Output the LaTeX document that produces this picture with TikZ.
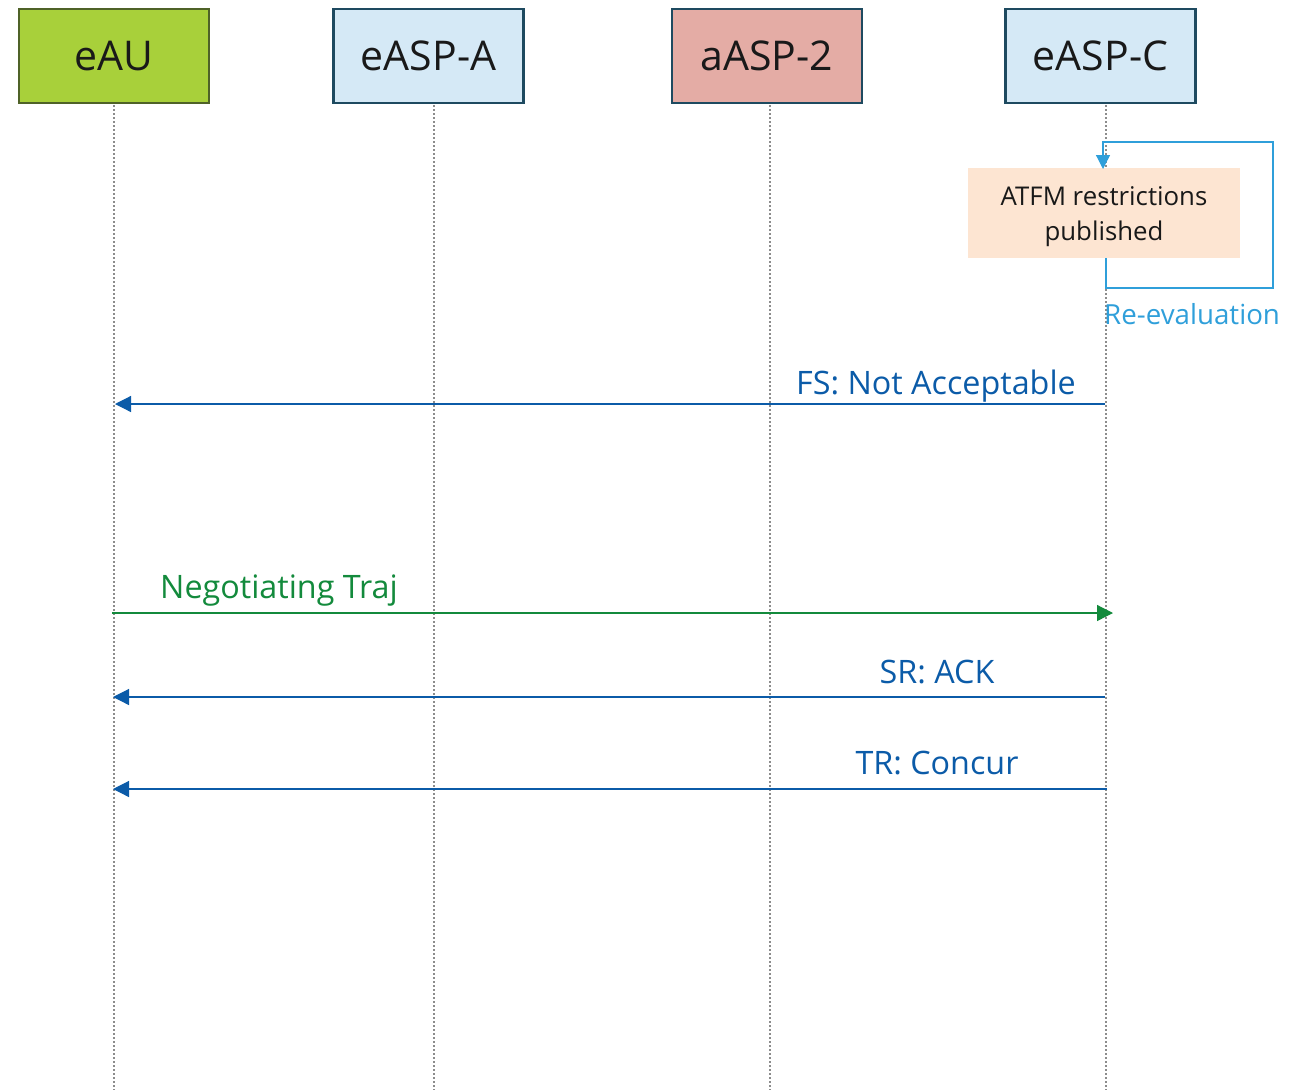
\documentclass[tikz,border=0pt]{standalone}
\usepackage{fontspec}
\setmainfont{Open Sans}
\usetikzlibrary{arrows.meta}
\definecolor{augreen}{HTML}{A8D03A}
\definecolor{auborder}{HTML}{4F6228}
\definecolor{aspfill}{HTML}{D5E9F6}
\definecolor{aspborder}{HTML}{1E4A60}
\definecolor{redfill}{HTML}{E4ACA5}
\definecolor{noteorange}{HTML}{FDE5D2}
\definecolor{msgblue}{HTML}{0B5BA8}
\definecolor{msggreen}{HTML}{138A3C}
\definecolor{loopblue}{HTML}{2F9FDA}
\definecolor{lifegray}{HTML}{8C8C8C}
\begin{document}
\begin{tikzpicture}[x=1pt,y=-1pt,
  actor/.style={draw, line width=2.5pt, minimum width=190pt, minimum height=94pt,
    inner sep=0pt, font=\fontsize{41}{48}\selectfont, text=black!90},
  lifeline/.style={draw=lifegray, line width=1.5pt, dash pattern=on 2pt off 2pt},
  msg/.style={line width=1.2pt, -{Triangle[length=16pt,width=16pt]}},
  msglabel/.style={font=\fontsize{32.3}{38}\selectfont, inner sep=0pt, anchor=base}]
\useasboundingbox (0,0) rectangle (1289,1090);

% participants
\node[actor, fill=augreen, draw=auborder]  (au)   at (114,56) {eAU};
\node[actor, fill=aspfill, draw=aspborder] (aspa) at (428.5,56) {eASP-A};
\node[actor, fill=redfill, draw=aspborder] (asp2) at (767,56) {aASP-2};
\node[actor, fill=aspfill, draw=aspborder] (aspc) at (1100.5,56) {eASP-C};

% lifeline ends
\coordinate (au0) at (114,105);   \coordinate (au1) at (114,1090);
\coordinate (aa0) at (434,105);   \coordinate (aa1) at (434,1090);
\coordinate (a20) at (770,105);   \coordinate (a21) at (770,1090);
\coordinate (ac0) at (1106,105);  \coordinate (ac1) at (1106,1090);
\draw[lifeline] (au0) -- (au1);
\draw[lifeline] (aa0) -- (aa1);
\draw[lifeline] (a20) -- (a21);
\draw[lifeline] (ac0) -- (ac1);

% note on eASP-C
\node[fill=noteorange, minimum width=272pt, minimum height=90pt, inner sep=0pt]
  (note) at (1104,213) {};
\node[align=center, font=\fontsize{25.8}{35}\selectfont, text=black!90, inner sep=0pt]
  (notetext) at (1104,217) {ATFM restrictions\\published};

% re-evaluation loop
\coordinate (lp0) at (1106,258);
\coordinate (lp1) at (1106,288);
\coordinate (lp2) at (1273,288);
\coordinate (lp3) at (1273,142);
\coordinate (lp4) at (1103,142);
\coordinate (lp5) at (1103,169);
\draw[loopblue, line width=1.3pt, -{Triangle[length=14pt,width=14pt]}]
  (lp0) -- (lp1) -- (lp2) -- (lp3) -- (lp4) -- (lp5);
\node[font=\fontsize{27.7}{34}\selectfont, text=loopblue, inner sep=0pt, anchor=base west]
  (reeval) at (1104,324) {Re-evaluation};

% messages
\coordinate (fs0) at (1105,404);  \coordinate (fs1) at (115,404);
\draw[msg, msgblue] (fs0) -- (fs1);
\node[msglabel, anchor=base east, text=msgblue] (fsl) at (1076,394) {FS: Not Acceptable};

\coordinate (nt0) at (112,613);   \coordinate (nt1) at (1113,613);
\draw[msg, msggreen] (nt0) -- (nt1);
\node[msglabel, anchor=base west, text=msggreen] (ntl) at (160,598) {Negotiating Traj};

\coordinate (sr0) at (1105,697);  \coordinate (sr1) at (113,697);
\draw[msg, msgblue] (sr0) -- (sr1);
\node[msglabel, text=msgblue] (srl) at (937,683) {SR: ACK};

\coordinate (tr0) at (1107,789);  \coordinate (tr1) at (113,789);
\draw[msg, msgblue] (tr0) -- (tr1);
\node[msglabel, text=msgblue] (trl) at (937,774) {TR: Concur};
\end{tikzpicture}
\end{document}
